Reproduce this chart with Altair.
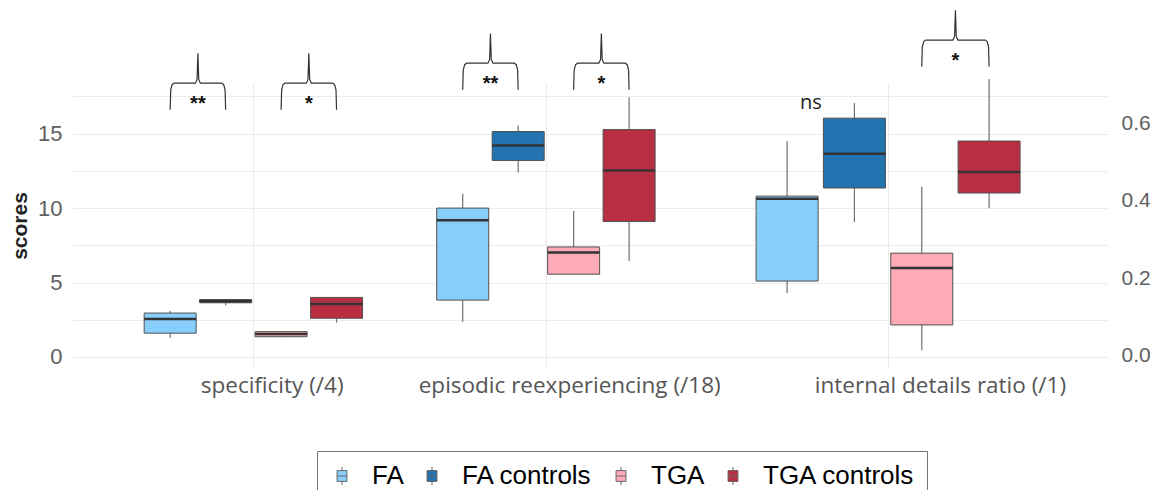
import altair as alt
import pandas as pd

# ---------------- data ----------------
measures = ["specificity (/4)", "episodic reexperiencing (/18)", "internal details ratio (/1)"]
groups = ["FA", "FA controls", "TGA", "TGA controls"]
colors = ["#87CEFA", "#2373B0", "#FFAAB7", "#B82E42"]

# box summaries, order of groups: FA, FA controls, TGA, TGA controls
spec_low = [1.27, 3.48, 1.36, 2.30]
spec_q1 = [1.60, 3.64, 1.36, 2.60]
spec_med = [2.55, 3.75, 1.54, 3.55]
spec_q3 = [2.95, 3.86, 1.70, 4.00]
spec_high = [3.10, 3.90, 1.70, 4.00]

epi_low = [2.37, 12.37, 5.56, 6.45]
epi_q1 = [3.82, 13.20, 5.56, 9.10]
epi_med = [9.18, 14.20, 7.01, 12.52]
epi_q3 = [10.00, 15.14, 7.39, 15.27]
epi_high = [10.96, 15.54, 9.80, 17.44]

idr_low = [0.162, 0.345, 0.015, 0.381]
idr_q1 = [0.193, 0.433, 0.080, 0.420]
idr_med = [0.405, 0.521, 0.227, 0.474]
idr_q3 = [0.412, 0.613, 0.265, 0.554]
idr_high = [0.554, 0.652, 0.436, 0.714]

# significance annotations (measure index, compared boxes, level in score units)
ann_measure = [0, 0, 1, 1, 2, 2]
ann_from = [0, 2, 0, 2, 2, 0]
ann_to = [1, 3, 1, 3, 3, 1]
ann_level = [18.39, 18.39, 19.73, 19.73, 21.28, 18.46]
ann_label = ["**", "*", "**", "*", "*", "ns"]
ann_brace = [True, True, True, True, True, False]

score_ticks = [0, 2.5, 5, 7.5, 10, 12.5, 15, 17.5]
ratio_ticks = [0.0, 0.2, 0.4, 0.6]

# ---------------- layout ----------------
X_DOMAIN = [0, 18.5]
GROUP_CENTER = [3.18, 8.455, 14.625]
BOX_STEP = [1.0, 1.0, 1.214]
LABEL_POS = [3.51, 8.875, 15.56]
SCORE_DOMAIN = [-0.74, 18.4]
RATIO_DOMAIN = [-0.031, 0.7036]
DROP, RISE, TEXT_DROP = 1.78, 2.0, 1.8

stats = [
    (spec_low, spec_q1, spec_med, spec_q3, spec_high),
    (epi_low, epi_q1, epi_med, epi_q3, epi_high),
    (idr_low, idr_q1, idr_med, idr_q3, idr_high),
]


def box_pos(m, i):
    return GROUP_CENTER[m] + (i - 1.5) * BOX_STEP[m]


rows = []
for m, (lo, q1, md, q3, hi) in enumerate(stats):
    for i, g in enumerate(groups):
        rows.append(dict(measure=measures[m], m=m, group=g, pos=box_pos(m, i),
                         low=lo[i], q1=q1[i], median=md[i], q3=q3[i], high=hi[i]))
box_df = pd.DataFrame(rows)
left_df = box_df[box_df.m < 2]
right_df = box_df[box_df.m == 2]

brace_rows, star_rows, ns_rows = [], [], []
for k in range(len(ann_label)):
    m = ann_measure[k]
    xl, xr = box_pos(m, ann_from[k]), box_pos(m, ann_to[k])
    c = (xl + xr) / 2
    lvl = ann_level[k]
    trow = dict(tx=c, ty=lvl - TEXT_DROP, label=ann_label[k])
    (star_rows if ann_brace[k] else ns_rows).append(trow)
    if ann_brace[k]:
        shape = [(xl, lvl - DROP), (xl + 0.01, lvl - 0.45), (xl + 0.035, lvl - 0.1), (xl + 0.07, lvl),
                 (c - 0.045, lvl), (c - 0.015, lvl + 0.25), (c, lvl + RISE), (c + 0.015, lvl + 0.25),
                 (c + 0.045, lvl), (xr - 0.07, lvl), (xr - 0.035, lvl - 0.1), (xr - 0.01, lvl - 0.45),
                 (xr, lvl - DROP)]
        for s, (bx, by) in enumerate(shape):
            brace_rows.append(dict(bid=k, seq=s, bx=bx, by=by))
brace_df = pd.DataFrame(brace_rows)
star_df = pd.DataFrame(star_rows)
ns_df = pd.DataFrame(ns_rows)

# ---------------- scales / axes ----------------
xs = alt.Scale(domain=X_DOMAIN, nice=False, zero=False)
ys = alt.Scale(domain=SCORE_DOMAIN, nice=False, zero=False)
yr = alt.Scale(domain=RATIO_DOMAIN, nice=False, zero=False)

x_grid_axis = alt.Axis(orient="bottom", values=GROUP_CENTER, grid=True, gridColor="#ebebeb", gridWidth=1,
                       labels=False, ticks=False, domain=False, title=None)
label_expr = (f"datum.value < {(LABEL_POS[0] + LABEL_POS[1]) / 2} ? '{measures[0]}' : "
              f"datum.value < {(LABEL_POS[1] + LABEL_POS[2]) / 2} ? '{measures[1]}' : '{measures[2]}'")
x_label_axis = alt.Axis(orient="bottom", values=LABEL_POS, grid=False, ticks=False, domain=False,
                        labelExpr=label_expr, labelFont="Open Sans", labelFontSize=22.5,
                        labelColor="#555555", labelPadding=6, labelFlush=False, labelOverlap=False,
                        labelLimit=600, title=None)

score_axis = alt.Axis(orient="left", values=score_ticks, labelExpr="datum.value % 5 == 0 ? datum.label : ''",
                      grid=True, gridColor="#ebebeb", gridWidth=1, ticks=False, domain=False,
                      labelFont="Liberation Sans", labelFontSize=22, labelColor="#606060",
                      labelPadding=10, titleFont="Liberation Sans", titleFontSize=21,
                      titleFontWeight="bold", titleColor="#222222", titlePadding=7)
ratio_axis = alt.Axis(orient="right", values=ratio_ticks, format=".1f", grid=False, ticks=False,
                      domain=False, labelFont="Liberation Sans", labelFontSize=21,
                      labelColor="#606060", labelPadding=13, title=None)

SYMBOL = "M-0.55,-0.6H0.55V0.6H-0.55Z M-0.55,0H0.55 M0,-1V-0.6 M0,0.6V1"
legend = alt.Legend(orient="none", legendX=245, legendY=368, direction="horizontal", title=None,
                    labelFont="Liberation Sans", labelFontSize=26, labelColor="#000000",
                    labelLimit=400, symbolType=SYMBOL, symbolSize=324, symbolStrokeColor="#666666",
                    symbolStrokeWidth=1, symbolOpacity=1, strokeColor="#777777", fillColor="#ffffff",
                    padding=12, columnPadding=15, labelOffset=17)
color = alt.Color("group:N", scale=alt.Scale(domain=groups, range=colors), legend=legend)

# ---------------- left (score scale) ----------------
xl_enc = lambda f: alt.X(f, scale=xs, axis=x_grid_axis, title=None)
ys_enc = lambda f: alt.Y(f, scale=ys, axis=score_axis, title="scores")

l_whisk = alt.Chart(left_df).mark_rule(color="#707070", strokeWidth=1.2, clip=False).encode(
    x=xl_enc("pos:Q"), y=ys_enc("low:Q"), y2="high:Q")
l_box = alt.Chart(left_df).mark_bar(size=52, stroke="#505050", strokeWidth=1, clip=False).encode(
    x=xl_enc("pos:Q"), y=ys_enc("q1:Q"), y2="q3:Q", color=color)
l_med = alt.Chart(left_df).mark_tick(orient="horizontal", size=52, thickness=2.5, color="#333333",
                                     opacity=1, clip=False).encode(
    x=xl_enc("pos:Q"), y=ys_enc("median:Q"))
braces = alt.Chart(brace_df).mark_line(color="#333333", strokeWidth=1.2, clip=False).encode(
    x=xl_enc("bx:Q"), y=ys_enc("by:Q"), detail="bid:N", order="seq:Q")
stars = alt.Chart(star_df).mark_text(font="Liberation Sans", fontSize=20, fontWeight="bold",
                                     color="#111111", baseline="alphabetic", clip=False).encode(
    x=xl_enc("tx:Q"), y=ys_enc("ty:Q"), text="label:N")
ns_text = alt.Chart(ns_df).mark_text(font="Open Sans", fontSize=20, color="#222222",
                                     baseline="alphabetic", dx=-10, clip=False).encode(
    x=xl_enc("tx:Q"), y=ys_enc("ty:Q"), text="label:N")

left = alt.layer(l_whisk, l_box, l_med, braces, stars, ns_text)

# ---------------- right (ratio scale) ----------------
xr_enc = lambda f: alt.X(f, scale=xs, axis=x_label_axis, title=None)
yr_enc = lambda f: alt.Y(f, scale=yr, axis=ratio_axis, title=None)

r_whisk = alt.Chart(right_df).mark_rule(color="#707070", strokeWidth=1.2, clip=False).encode(
    x=xr_enc("pos:Q"), y=yr_enc("low:Q"), y2="high:Q")
r_box = alt.Chart(right_df).mark_bar(size=62, stroke="#505050", strokeWidth=1, clip=False).encode(
    x=xr_enc("pos:Q"), y=yr_enc("q1:Q"), y2="q3:Q", color=color)
r_med = alt.Chart(right_df).mark_tick(orient="horizontal", size=62, thickness=2.5, color="#333333",
                                      opacity=1, clip=False).encode(
    x=xr_enc("pos:Q"), y=yr_enc("median:Q"))

right = alt.layer(r_whisk, r_box, r_med)

chart = (
    alt.layer(left, right)
    .resolve_scale(y="independent")
    .resolve_axis(x="independent")
    .properties(width=1036, height=285, autosize=alt.AutoSizeParams(type="none"),
                padding={"left": 64, "top": 75, "right": 42, "bottom": 122}, background="#ffffff")
    .configure_view(stroke=None)
)

chart.save("out.html", embed_options={"renderer": "svg", "actions": False})
